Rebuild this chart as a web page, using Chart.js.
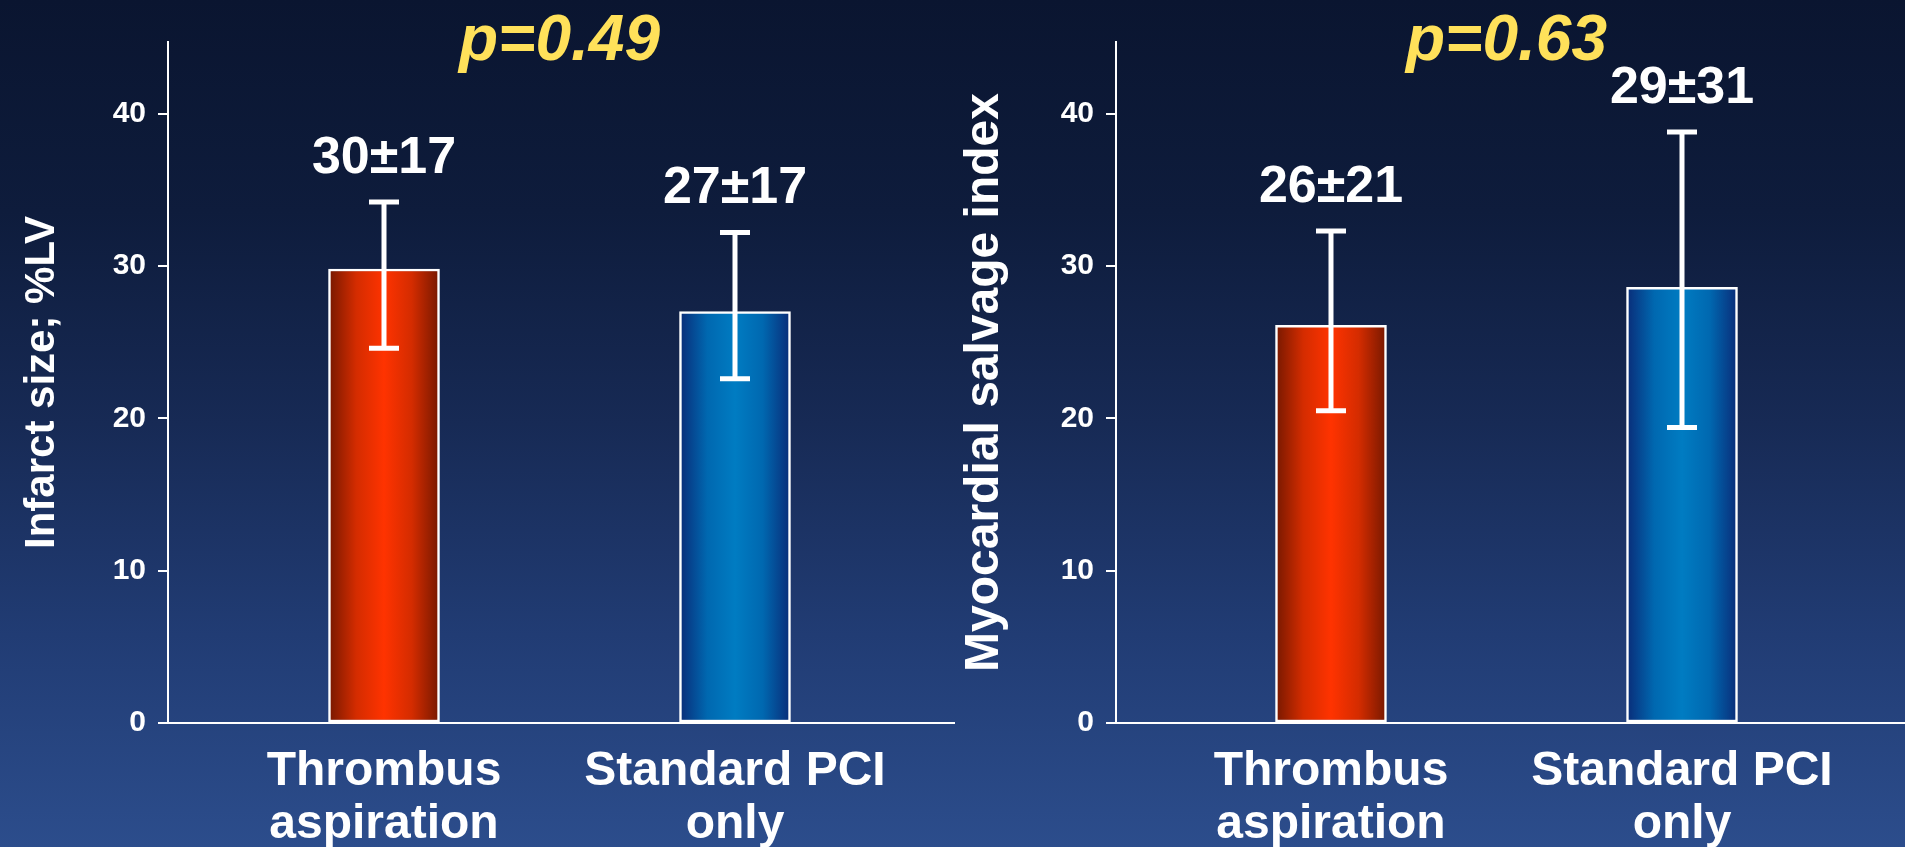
<!DOCTYPE html>
<html>
<head>
<meta charset="utf-8">
<script src="https://cdn.jsdelivr.net/npm/chart.js@4.4.1/dist/chart.umd.min.js"></script>
<style>
  html, body { margin: 0; padding: 0; width: 1905px; height: 847px; overflow: hidden; }
  body { background: linear-gradient(180deg, #0a1530 0%, #0e1c3c 25%, #172a55 50%, #213c74 75%, #2c4d8c 100%); }
  #left { position: absolute; left: 0; top: 0; }
  #right { position: absolute; left: 955px; top: 0; }
</style>
</head>
<body>
<canvas id="left" width="955" height="847"></canvas>
<canvas id="right" width="950" height="847"></canvas>
<script>
// ---- data ----
const categories = [['Thrombus', 'aspiration'], ['Standard PCI', 'only']];
const yTickValues = [0, 10, 20, 30, 40];

const infarctMean = [29.8, 27.0];
const infarctErrLow = [24.6, 22.6];
const infarctErrHigh = [34.2, 32.2];
const infarctLabels = ['30±17', '27±17'];
const infarctP = 'p=0.49';

const salvageMean = [26.1, 28.6];
const salvageErrLow = [20.5, 19.4];
const salvageErrHigh = [32.3, 38.8];
const salvageLabels = ['26±21', '29±31'];
const salvageP = 'p=0.63';

// ---- styling ----
const FONT = '"Liberation Sans", Arial, Helvetica, sans-serif';
Chart.defaults.font.family = FONT;
Chart.defaults.color = '#ffffff';
const BAR_W = 111;
const redStops = ['#761800', '#d42c00', '#ff3300', '#d42c00', '#761800'];
const blueStops = ['#0a2c78', '#0068b0', '#007cc2', '#0068b0', '#0a2c78'];

function barFill(context) {
  const chart = context.chart;
  const stops = context.dataIndex === 0 ? redStops : blueStops;
  if (!chart.chartArea || !chart.scales.x) return stops[2];
  const cx = chart.scales.x.getPixelForValue(context.dataIndex);
  const g = chart.ctx.createLinearGradient(cx - BAR_W / 2, 0, cx + BAR_W / 2, 0);
  g.addColorStop(0, stops[0]);
  g.addColorStop(0.25, stops[1]);
  g.addColorStop(0.5, stops[2]);
  g.addColorStop(0.75, stops[3]);
  g.addColorStop(1, stops[4]);
  return g;
}

const errorBarPlugin = {
  id: 'errorBars',
  afterDatasetsDraw(chart, args, opts) {
    const ctx = chart.ctx;
    const y = chart.scales.y;
    const meta = chart.getDatasetMeta(0);
    ctx.save();
    ctx.strokeStyle = '#ffffff';
    ctx.fillStyle = '#ffffff';
    ctx.lineWidth = 5;
    meta.data.forEach((bar, i) => {
      const cx = bar.x;
      const yl = y.getPixelForValue(opts.low[i]);
      const yh = y.getPixelForValue(opts.high[i]);
      ctx.beginPath();
      ctx.moveTo(cx, yl);
      ctx.lineTo(cx, yh);
      ctx.moveTo(cx - 15, yl);
      ctx.lineTo(cx + 15, yl);
      ctx.moveTo(cx - 15, yh);
      ctx.lineTo(cx + 15, yh);
      ctx.stroke();
      ctx.font = 'bold 52px ' + FONT;
      ctx.textAlign = 'center';
      ctx.textBaseline = 'alphabetic';
      ctx.fillText(opts.labels[i], cx, yh - 29);
    });
    const midX = (meta.data[0].x + meta.data[1].x) / 2;
    ctx.font = 'italic bold 64px ' + FONT;
    ctx.fillStyle = '#ffe15a';
    ctx.textAlign = 'center';
    ctx.textBaseline = 'alphabetic';
    ctx.fillText(opts.p, midX, 60);
    ctx.restore();
  }
};

function makeChart(id, cfg) {
  return new Chart(document.getElementById(id), {
    type: 'bar',
    data: {
      datasets: [{
        data: cfg.mean.map((v, i) => ({ x: i, y: v })),
        backgroundColor: barFill,
        borderColor: '#ffffff',
        borderWidth: 2.5,
        borderSkipped: false,
        barThickness: BAR_W
      }]
    },
    options: {
      responsive: false,
      animation: false,
      devicePixelRatio: 1,
      layout: { padding: { top: 42, left: 0, right: 0, bottom: 0 } },
      plugins: {
        legend: { display: false },
        tooltip: { enabled: false },
        errorBars: { low: cfg.low, high: cfg.high, labels: cfg.labels, p: cfg.p }
      },
      scales: {
        x: {
          type: 'linear',
          offset: false,
          min: cfg.xMin,
          max: cfg.xMax,
          afterFit: (s) => { s.height = 124; },
          afterBuildTicks: (s) => { s.ticks = categories.map((_, i) => ({ value: i })); },
          grid: { display: false },
          border: { display: true, color: '#ffffff', width: 2 },
          ticks: {
            padding: 15,
            color: '#ffffff',
            font: { size: 48, weight: 'bold', lineHeight: 1.09 },
            maxRotation: 0,
            autoSkip: false,
            callback: (v) => categories[v]
          }
        },
        y: {
          min: 0,
          max: 44.7,
          afterFit: (s) => { s.width = cfg.yWidth; },
          afterBuildTicks: (s) => { s.ticks = yTickValues.map(v => ({ value: v })); },
          grid: { display: true, drawOnChartArea: false, drawTicks: true, tickLength: 10, color: '#ffffff', lineWidth: 2 },
          border: { display: true, color: '#ffffff', width: 2 },
          ticks: {
            padding: 12,
            color: '#ffffff',
            font: { size: 30, weight: 'bold' },
            callback: (v) => String(v)
          },
          title: {
            display: true,
            text: cfg.title,
            color: '#ffffff',
            font: { size: cfg.titleSize, weight: 'bold', lineHeight: 1.2 },
            padding: { top: cfg.titlePad, bottom: 0 }
          }
        }
      }
    },
    plugins: [errorBarPlugin]
  });
}

makeChart('left', {
  mean: infarctMean, low: infarctErrLow, high: infarctErrHigh, labels: infarctLabels, p: infarctP,
  xMin: -0.6154, xMax: 1.6268, yWidth: 168,
  title: 'Infarct size; %LV', titleSize: 42, titlePad: 17
});
makeChart('right', {
  mean: salvageMean, low: salvageErrLow, high: salvageErrHigh, labels: salvageLabels, p: salvageP,
  xMin: -0.6125, xMax: 1.6353, yWidth: 161,
  title: 'Myocardial salvage index', titleSize: 48, titlePad: 1
});
</script>
</body>
</html>
